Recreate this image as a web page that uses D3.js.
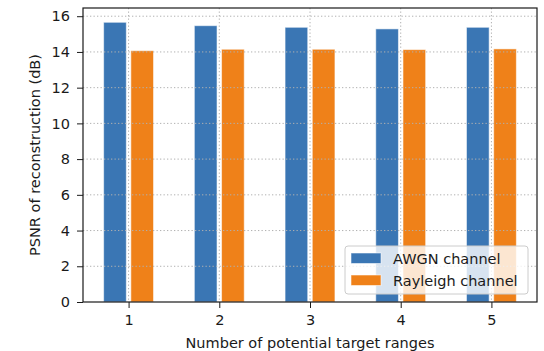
<!DOCTYPE html>
<html>
<head>
<meta charset="utf-8">
<script src="https://cdn.jsdelivr.net/npm/d3@7"></script>
<style>
body { margin:0; background:#fff; }
text { font-family: "DejaVu Sans", sans-serif; fill:#1a1a1a; }
</style>
</head>
<body>
<div id="chart-area"></div>
<script>
var categories = [1, 2, 3, 4, 5];
var awgn = [15.66, 15.47, 15.38, 15.29, 15.38];
var rayleigh = [14.07, 14.15, 14.15, 14.13, 14.17];
var seriesNames = ["AWGN channel", "Rayleigh channel"];
var yTicks = [0, 2, 4, 6, 8, 10, 12, 14, 16];

var margin = { left:83, right:7, top:8, bottom:49 };
var width = 544 - margin.left - margin.right,
    height = 351 - margin.top - margin.bottom;
var fontSize = "14.5px";

var svg = d3.select("#chart-area")
    .append("svg")
        .attr("width", 544)
        .attr("height", 351);

var g = svg.append("g")
    .attr("transform", "translate(" + margin.left + "," + margin.top + ")");

var colors = ["#3a76b4", "#ef8119"];
var barW = 0.25;

// Scales
var x = d3.scaleLinear()
    .domain([0.4975, 5.5025])
    .range([0, width]);

var y = d3.scaleLinear()
    .domain([0, 16.46])
    .range([height, 0]);

// Bars
var series = [awgn, rayleigh];
series.forEach(function(vals, s) {
    var off = s == 0 ? -0.15 : 0.15;
    g.selectAll(".bar" + s)
        .data(vals)
        .enter().append("rect")
        .attr("class", "bar" + s)
        .attr("x", function(d, i) { return x(categories[i] + off - barW / 2); })
        .attr("width", x(barW) - x(0))
        .attr("y", function(d) { return y(d); })
        .attr("height", function(d) { return height - y(d); })
        .attr("fill", colors[s])
        .attr("stroke", "#fff")
        .attr("stroke-opacity", 0.55)
        .attr("stroke-width", 1);
});

// Grid (drawn above the bars)
var grid = g.append("g").attr("class", "grid");
grid.selectAll(".hgrid")
    .data(yTicks.slice(1))
    .enter().append("line")
    .attr("x1", 0).attr("x2", width)
    .attr("y1", function(d) { return y(d); })
    .attr("y2", function(d) { return y(d); });
grid.selectAll(".vgrid")
    .data(categories)
    .enter().append("line")
    .attr("y1", 0).attr("y2", height)
    .attr("x1", function(d) { return x(d); })
    .attr("x2", function(d) { return x(d); });
grid.selectAll("line")
    .attr("stroke", "#b0b0b0")
    .attr("stroke-width", 1)
    .attr("stroke-dasharray", "1.3,2.2");

// Axes
var xAxisCall = d3.axisBottom(x)
    .tickValues(categories)
    .tickSize(6)
    .tickPadding(7)
    .tickFormat(d3.format("d"));
var xa = g.append("g")
    .attr("transform", "translate(0," + height + ")")
    .call(xAxisCall);

var yAxisCall = d3.axisLeft(y)
    .tickValues(yTicks)
    .tickSize(6)
    .tickPadding(7)
    .tickFormat(d3.format("d"));
var ya = g.append("g").call(yAxisCall);

[xa, ya].forEach(function(a) {
    a.select(".domain").remove();
    a.selectAll("line").attr("stroke", "#1a1a1a").attr("stroke-width", 1);
    a.selectAll("text").style("font-size", fontSize).style("font-family", "DejaVu Sans").attr("fill", "#1a1a1a");
});

// Frame
g.append("rect")
    .attr("x", 0).attr("y", 0)
    .attr("width", width).attr("height", height)
    .attr("fill", "none")
    .attr("stroke", "#1a1a1a")
    .attr("stroke-width", 1.2);

// Labels
g.append("text")
    .attr("x", width / 2)
    .attr("y", height + 46)
    .attr("font-size", fontSize)
    .attr("text-anchor", "middle")
    .text("Number of potential target ranges");

g.append("text")
    .attr("transform", "rotate(-90)")
    .attr("x", -height / 2)
    .attr("y", -43)
    .attr("font-size", fontSize)
    .attr("text-anchor", "middle")
    .text("PSNR of reconstruction (dB)");

// Legend
var legend = g.append("g")
    .attr("transform", "translate(" + (345 - margin.left) + "," + (246 - margin.top) + ")");
legend.append("rect")
    .attr("width", 183)
    .attr("height", 48)
    .attr("rx", 3)
    .attr("fill", "#fff")
    .attr("fill-opacity", 0.8)
    .attr("stroke", "#cccccc")
    .attr("stroke-width", 1);

seriesNames.forEach(function(name, i) {
    var row = legend.append("g")
        .attr("transform", "translate(6," + (7 + i * 22) + ")");
    row.append("rect")
        .attr("width", 30)
        .attr("height", 10.5)
        .attr("fill", colors[i])
        .attr("stroke", "#fff")
        .attr("stroke-opacity", 0.55);
    row.append("text")
        .attr("x", 42)
        .attr("y", 11)
        .attr("font-size", fontSize)
        .text(name);
});
</script>
</body>
</html>
